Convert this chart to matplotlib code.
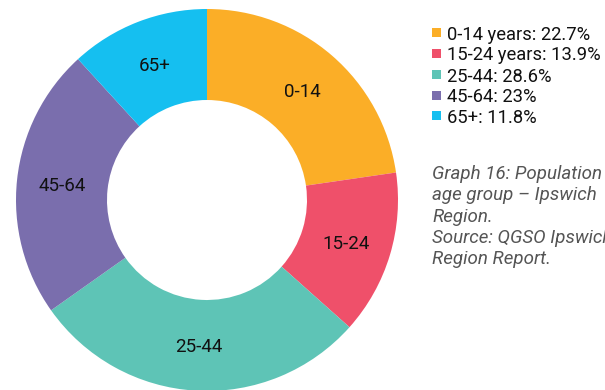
import numpy as np
import matplotlib
matplotlib.use("Agg")
import matplotlib.pyplot as plt
from matplotlib.patches import Rectangle

plt.rcParams['font.family'] = ['Roboto', 'DejaVu Sans']

# Population by age group
categories = ["0-14", "15-24", "25-44", "45-64", "65+"]
legend_labels = ["0-14 years", "15-24 years", "25-44", "45-64", "65+"]
values = [22.7, 13.9, 28.6, 23, 11.8]
colors = ["#FBAE27", "#EF506A", "#5EC4B6", "#7A6EAD", "#15BFF0"]
caption = ["Graph 16: Population",
           "age group \u2013 Ipswich",
           "Region.",
           "Source: QGSO Ipswich",
           "Region Report."]

W, H = 605, 390
fig = plt.figure(figsize=(W / 100, H / 100), dpi=100)

# Donut geometry in pixels
cx, cy, R, r_in = 207, 200, 191, 100
ax = fig.add_axes([0, 0, 1, 1])

ring = 1 - r_in / R
wedges, _ = ax.pie(values, colors=colors, startangle=90, counterclock=False,
                   radius=1, wedgeprops=dict(width=ring, linewidth=0),
                   center=(0, 0), frame=True)
ax.set_aspect('auto')
ax.set_xlim(-cx / R, (W - cx) / R)
ax.set_ylim(-(H - cy) / R, cy / R)
ax.axis('off')

# Slice labels at mid-ring
r_lab = (1 + r_in / R) / 2
for w, name in zip(wedges, categories):
    ang = np.deg2rad((w.theta1 + w.theta2) / 2)
    ax.text(r_lab * np.cos(ang), r_lab * np.sin(ang), name,
            ha='center', va='center_baseline', fontsize=13.5, color='#111111')

# Legend drawn in pixel positions
def fx(px):
    return px / W

def fy(py):
    return 1 - py / H

row_y = [33, 53.5, 74.5, 95.5, 116]
for y, lab, val, col in zip(row_y, legend_labels, values, colors):
    fig.patches.append(Rectangle((fx(432), fy(y + 4)), 8.5 / W, 8.5 / H,
                                 transform=fig.transFigure, facecolor=col,
                                 edgecolor='none'))
    fig.text(fx(447), fy(y), f"{lab}: {val:g}%", ha='left', va='center_baseline',
             fontsize=13.2, color='#111111')

for i, line in enumerate(caption):
    fig.text(fx(432), fy(172 + 21.3 * i), line, ha='left', va='center_baseline',
             fontsize=13.5, color='#555555', style='italic')

fig.savefig("out.png", dpi=100)
